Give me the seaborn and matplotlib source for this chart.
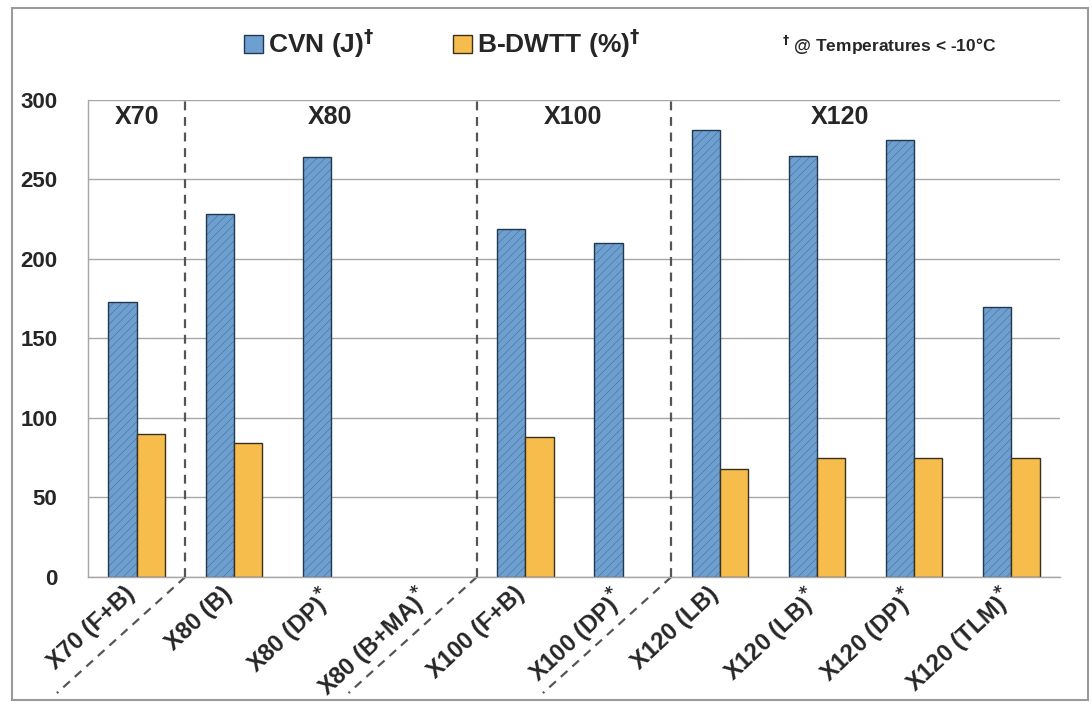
import matplotlib
matplotlib.use("Agg")
from matplotlib import pyplot as plt
from matplotlib.patches import Patch, Rectangle
from matplotlib.transforms import ScaledTranslation
import seaborn as sns
import pandas as pd
import numpy as np

categories = ["X70 (F+B)", "X80 (B)", "X80 (DP)*", "X80 (B+MA)*", "X100 (F+B)",
              "X100 (DP)*", "X120 (LB)", "X120 (LB)*", "X120 (DP)*", "X120 (TLM)*"]
cvn = [173, 228, 264, None, 219, 210, 281, 265, 275, 170]
bdwtt = [90, 84, None, None, 88, None, 68, 75, 75, 75]
series = ["CVN (J)", "B-DWTT (%)"]
groups = ["X70", "X80", "X100", "X120"]
group_x = [0.0, 1.99, 4.49, 7.24]
group_bounds = [0.5, 3.5, 5.5]

rows = []
for cat, c, b in zip(categories, cvn, bdwtt):
    if c is not None:
        rows.append((cat, series[0], c))
    if b is not None:
        rows.append((cat, series[1], b))
df = pd.DataFrame(rows, columns=["Steel", "Test", "Value"])

sns.set_theme(style="white")
plt.rcParams["font.family"] = ["Liberation Sans", "DejaVu Sans"]
plt.rcParams["mathtext.default"] = "bf"
plt.rcParams["hatch.linewidth"] = 0.18

colors = {"CVN (J)": "#6d9fd0", "B-DWTT (%)": "#f7bd4c"}
edges = {"CVN (J)": "#22384f", "B-DWTT (%)": "#3a3020"}

fig = plt.figure(figsize=(10.92, 7.04), dpi=100)
ax = fig.add_axes([0.0806, 0.1804, 0.8901, 0.6776])

sns.barplot(data=df, x="Steel", y="Value", hue="Test", order=categories,
            hue_order=series, palette=colors, width=0.58, errorbar=None,
            saturation=1, legend=False, ax=ax)

# fine texture + outlines
for container, name in zip(ax.containers, series):
    for p in container:
        p.set_edgecolor(edges[name])
        p.set_linewidth(1.0)
        if name == "CVN (J)":
            p.set_hatch("////")

ax.set_ylim(0, 300)
ax.set_xlim(-0.5, len(categories) - 0.5)
ax.set_yticks(range(0, 301, 50))
ax.yaxis.grid(True, color="#a6a6a6", linewidth=1.0)
ax.set_axisbelow(True)
ax.set_xlabel("")
ax.set_ylabel("")
for s in ["top", "right"]:
    ax.spines[s].set_visible(False)
for s in ["left", "bottom"]:
    ax.spines[s].set_color("#a6a6a6")
    ax.spines[s].set_linewidth(1.0)

ax.tick_params(axis="y", length=0, pad=22, labelsize=16)
for lbl in ax.get_yticklabels():
    lbl.set_fontweight("bold")

tick_text = [c.replace("*", r"$^{*}$") for c in categories]
ax.tick_params(axis="x", length=0, pad=8, labelsize=17)
ax.set_xticks(range(len(categories)))
ax.set_xticklabels(tick_text, rotation=43, ha="right", rotation_mode="anchor",
                   fontweight="bold")
shift = ScaledTranslation(-9 / 72, 4 / 72, fig.dpi_scale_trans)
for lbl in ax.get_xticklabels():
    lbl.set_transform(lbl.get_transform() + shift)

# group separators, dashed, running down under the tick labels
for b in group_bounds:
    ax.axvline(b, color="#555555", linestyle=(0, (4, 3)), linewidth=1.6, zorder=3)
    ax.plot([b, b - 1.32], [0, -73], color="#555555", linestyle=(0, (4, 3)),
            linewidth=1.6, clip_on=False)

for g, gx in zip(groups, group_x):
    ax.text(gx, 289, g, ha="center", va="center", fontsize=18, fontweight="bold")

handles = [Patch(facecolor=colors[s], edgecolor=edges[s], linewidth=1.0) for s in series]
leg_labels = [r"CVN (J)$^{\dagger}$", r"B-DWTT (%)$^{\dagger}$"]
fig.legend(handles, leg_labels, loc="center", bbox_to_anchor=(0.405, 0.938), ncol=2,
           frameon=False, handlelength=0.7, handleheight=0.7, handletextpad=0.2,
           columnspacing=3.0, prop={"weight": "bold", "size": 19})
fig.text(0.716, 0.936, r"$^{\dagger}$ @ Temperatures < -10°C", ha="left", va="center",
         fontsize=12.5, fontweight="bold")

fig.patches.append(Rectangle((0.011, 0.006), 0.985, 0.982, transform=fig.transFigure,
                             fill=False, edgecolor="#9a9a9a", linewidth=1.5))

fig.savefig("out.png", dpi=100)
